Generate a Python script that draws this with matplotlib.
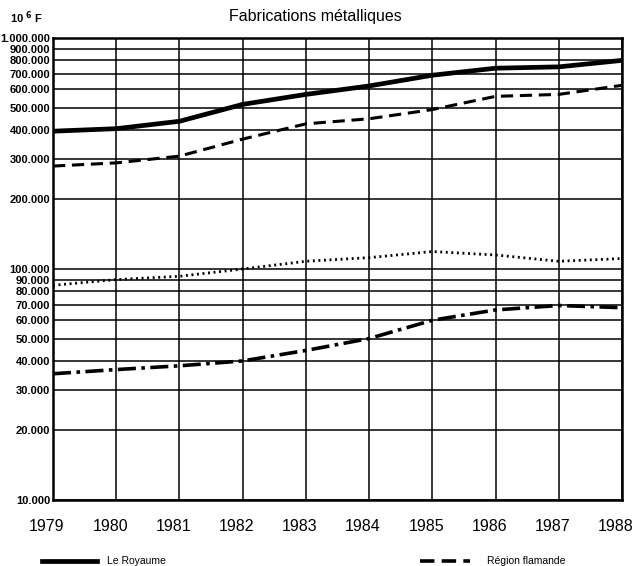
import matplotlib
matplotlib.use("Agg")
import matplotlib.pyplot as plt
from matplotlib.lines import Line2D
from matplotlib.ticker import FixedLocator, NullLocator
from matplotlib.transforms import ScaledTranslation

plt.rcParams['font.family'] = ['Liberation Sans', 'DejaVu Sans']

years = [1979, 1980, 1981, 1982, 1983, 1984, 1985, 1986, 1987, 1988]
royaume = [395000, 405000, 436000, 516000, 570000, 620000, 690000, 740000, 750000, 800000]
flamande = [279000, 288000, 308000, 365000, 425000, 447000, 490000, 559000, 570000, 624000]
serie_pointillee = [85000, 90000, 93000, 100000, 108000, 112000, 119000, 115000, 108000, 111000]
serie_mixte = [35200, 36700, 38100, 40000, 44400, 50000, 60000, 66500, 69500, 68000]

y_ticks = [10000, 20000, 30000, 40000, 50000, 60000, 70000, 80000, 90000, 100000,
           200000, 300000, 400000, 500000, 600000, 700000, 800000, 900000, 1000000]
y_labels = ["10.000", "20.000", "30.000", "40.000", "50.000", "60.000", "70.000", "80.000",
            "90.000", "100.000", "200.000", "300.000", "400.000", "500.000", "600.000",
            "700.000", "800.000", "900.000", "1.000.000"]

fig = plt.figure(figsize=(6.37, 5.66), dpi=100)
ax = fig.add_axes([53/637, 1-500/566, (622-53)/637, (500-38)/566])
ax.set_yscale('log')
ax.set_ylim(10000, 1000000)
ax.set_xlim(1979, 1988)

ax.plot(years, royaume, color='black', lw=3.4, solid_capstyle='butt', zorder=4)
ax.plot(years, flamande, color='black', lw=2.2, dashes=(4, 2.2), zorder=4)
ax.plot(years, serie_pointillee, color='black', lw=2.0, dashes=(0.7, 1.3), zorder=4)
ax.plot(years, serie_mixte, color='black', lw=2.6, dashes=(5, 1.5, 1, 1.5), zorder=4)

ax.yaxis.set_major_locator(FixedLocator(y_ticks))
ax.yaxis.set_minor_locator(NullLocator())
ax.set_yticklabels(y_labels, fontsize=8, fontweight='bold')
ax.set_xticks(years)
ax.set_xticklabels([str(y) for y in years], fontsize=11.5)
ax.tick_params(axis='both', length=0)
ax.tick_params(axis='x', pad=14)
ax.tick_params(axis='y', pad=2)
offset = ScaledTranslation(-6/100, 0, fig.dpi_scale_trans)
for lbl in ax.get_xticklabels():
    lbl.set_transform(lbl.get_transform() + offset)
ax.grid(True, which='major', color='black', lw=1.1)
for s in ax.spines.values():
    s.set_linewidth(1.8)

fig.text(315/637, 1-16/566, "Fabrications métalliques", ha='center', va='center', fontsize=11.5)
fig.text(10/637, 1-18/566, r"10 $^{\mathbf{6}}$ F", ha='left', va='center', fontsize=8, fontweight='bold')

# legend
fig.add_artist(Line2D([42/637, 97/637], [1-561/566]*2, color='black', lw=3.4, transform=fig.transFigure))
fig.text(107/637, 1-561/566, "Le Royaume", fontsize=7.5, va='center')
fig.add_artist(Line2D([420/637, 470/637], [1-561/566]*2, color='black', lw=2.6, dashes=(4, 2), transform=fig.transFigure))
fig.text(487/637, 1-561/566, "Région flamande", fontsize=7.5, va='center')

fig.savefig("out.png", dpi=100)
